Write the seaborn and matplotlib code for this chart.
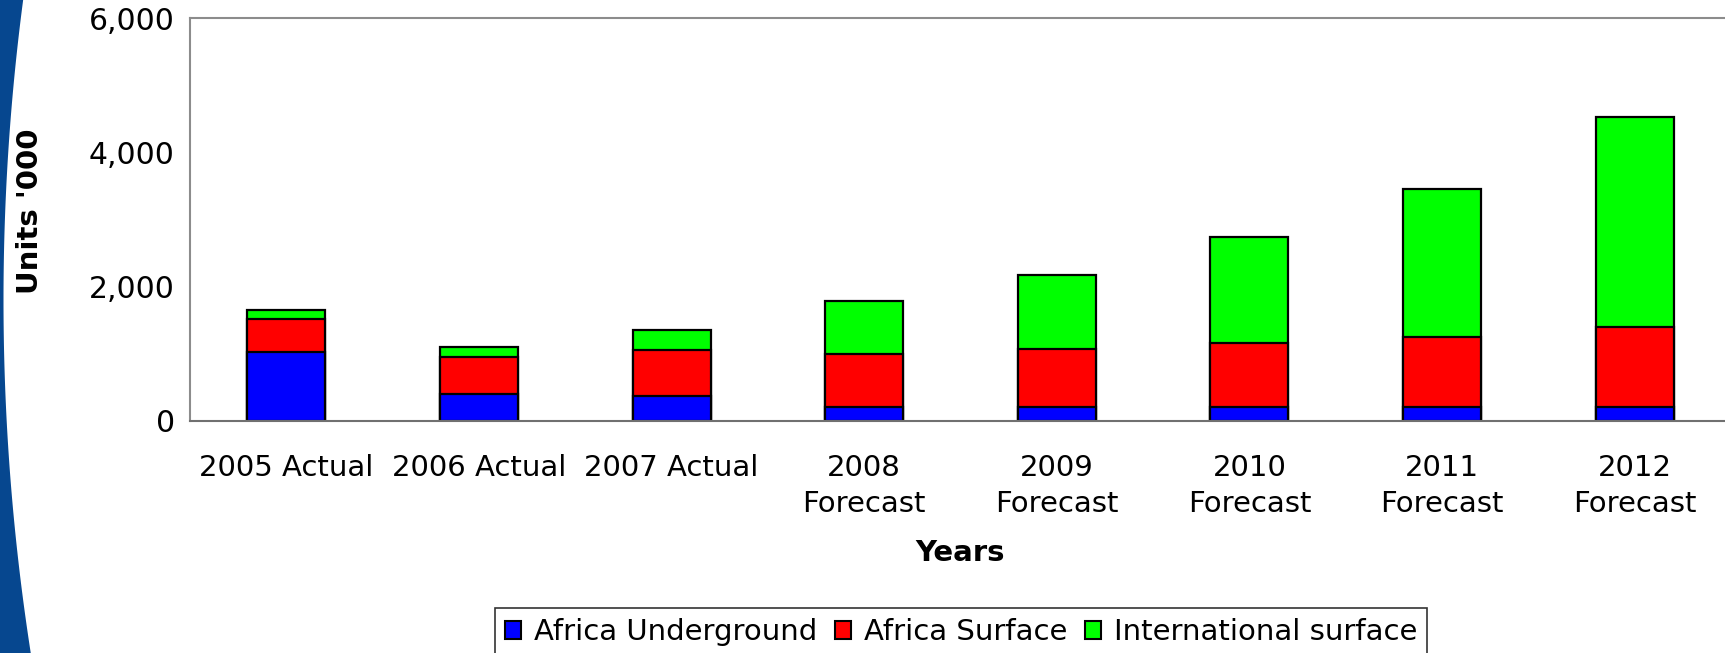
import numpy as np
import pandas as pd
import matplotlib
matplotlib.use("Agg")
import matplotlib.pyplot as plt
from matplotlib.patches import Patch
from matplotlib.ticker import FuncFormatter
import seaborn as sns

# Units shipped ('000) per year, split by segment
years = ["2005 Actual", "2006 Actual", "2007 Actual", "2008\nForecast",
         "2009\nForecast", "2010\nForecast", "2011\nForecast", "2012\nForecast"]
africa_underground = [1030, 400, 370, 205, 205, 205, 205, 205]
africa_surface = [490, 550, 680, 795, 870, 950, 1050, 1195]
international_surface = [135, 155, 300, 790, 1095, 1585, 2195, 3125]

series_names = ["Africa Underground", "Africa Surface", "International surface"]
series_colors = ["#0000FF", "#FF0000", "#00FF00"]
y_ticks = [0, 2000, 4000, 6000]

sns.set_style("white")
plt.rcParams["font.family"] = ["DejaVu Sans"]
plt.rcParams["text.color"] = "black"
plt.rcParams["axes.labelcolor"] = "black"

df = pd.DataFrame({
    "year": years,
    "underground": africa_underground,
    "surface": africa_surface,
    "international": international_surface,
})
# cumulative heights for stacking (drawn tallest first)
df["top_underground"] = df["underground"]
df["top_surface"] = df["top_underground"] + df["surface"]
df["top_international"] = df["top_surface"] + df["international"]

W, H = 1725, 653
fig = plt.figure(figsize=(W / 100, H / 100), dpi=100)

# decorative curved band on the left edge of the slide
bg = fig.add_axes([0, 0, 1, 1], zorder=-5)
bg.set_xlim(0, W)
bg.set_ylim(H, 0)
bg.axis("off")
R, cy, xmin = 2300.0, 300.0, 3.5
yy = np.linspace(0, H, 400)
xx = xmin + R - np.sqrt(R ** 2 - (yy - cy) ** 2)
bg.fill_betweenx(yy, -10, xx, color="#06478f", lw=0)

ax = fig.add_axes([190 / W, (H - 421) / H, 1541 / W, 403 / H])
ax.set_facecolor("white")

stack_cols = ["top_international", "top_surface", "top_underground"]
for col, color in zip(stack_cols, series_colors[::-1]):
    sns.barplot(data=df, x="year", y=col, order=years, color=color,
                saturation=1, width=0.405, edgecolor="black", linewidth=1.6,
                errorbar=None, ax=ax)

ax.set_xlim(-0.5, len(years) - 0.5)
ax.set_ylim(0, 6000)
ax.set_yticks(y_ticks)
ax.yaxis.set_major_formatter(FuncFormatter(lambda v, p: f"{int(v):,}"))
ax.tick_params(axis="y", length=0, pad=11, labelsize=21.5, labelcolor="black")

# boundary ticks between categories, labels centred under each bar
ax.set_xticks(np.arange(-0.5, len(years), 1.0))
ax.set_xticklabels([])
ax.set_xticks(np.arange(len(years)), minor=True)
ax.set_xticklabels(years, minor=True, fontsize=21, linespacing=1.4)
ax.tick_params(axis="x", which="major", length=7, width=1.2, color="black",
               direction="out")
ax.tick_params(axis="x", which="minor", length=0, pad=23.5, labelcolor="black")

for side in ["left", "top", "right"]:
    ax.spines[side].set_color("#8c8c8c")
    ax.spines[side].set_linewidth(1.5)
ax.spines["bottom"].set_color("#707070")
ax.spines["bottom"].set_linewidth(1.5)

ax.set_xlabel("Years", fontsize=21, fontweight="bold", labelpad=15, color="black")
ax.set_ylabel("Units '000", fontsize=21, fontweight="bold", color="black")
ax.yaxis.set_label_coords(-0.095, 0.52)

handles = [Patch(facecolor=c, edgecolor="black", linewidth=1.5, label=n)
           for n, c in zip(series_names, series_colors)]
leg = fig.legend(handles=handles, loc="upper center",
                 bbox_to_anchor=(961 / W, 1 - 608 / H), ncol=3, frameon=True,
                 fancybox=False, shadow=False, edgecolor="black", fontsize=21,
                 handlelength=0.55, handleheight=0.55, handletextpad=0.45,
                 columnspacing=0.6, borderpad=0.35, borderaxespad=0)
leg.get_frame().set_linewidth(1.2)
for t in leg.get_texts():
    t.set_color("black")

fig.savefig("out.png", dpi=100, facecolor="white")
